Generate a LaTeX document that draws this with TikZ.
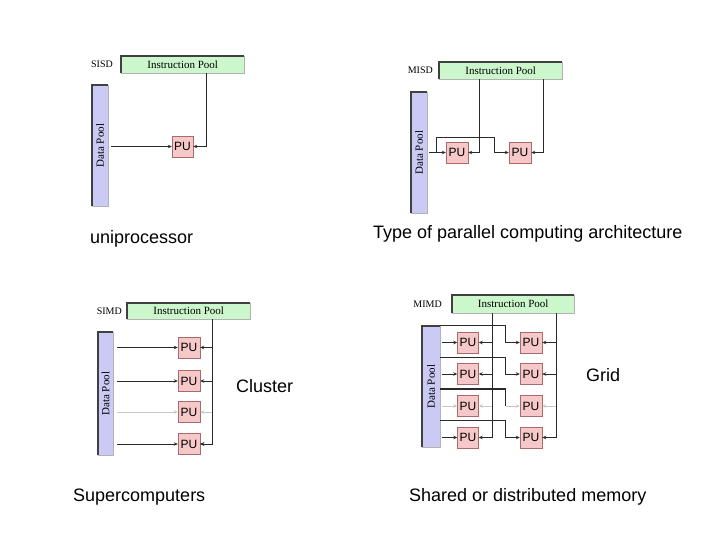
\documentclass[tikz,border=0pt]{standalone}
\usepackage{fontspec}
\setmainfont{Liberation Serif}
\setsansfont{Liberation Sans}
\usepackage{xcolor}
\usetikzlibrary{shapes, arrows.meta, positioning, calc}

\definecolor{poolgreen}{HTML}{CCF7CC}
\definecolor{poolblue}{HTML}{CACAF4}
\definecolor{pupink}{HTML}{F6C8C8}
\definecolor{puedge}{HTML}{A86A6A}
\definecolor{wire}{HTML}{2A2A2A}

\begin{document}
\begin{tikzpicture}[
        x=1pt, y=-1pt,
        ipool/.style={rectangle, draw=gray!60, fill=poolgreen, minimum width=123pt, minimum height=17pt, inner sep=0pt, font=\fontsize{11}{12}\selectfont},
        dpool/.style={rectangle, draw=gray!60, fill=poolblue, minimum width=16pt, minimum height=121pt, inner sep=0pt, font=\fontsize{11}{12}\selectfont},
        rim/.style={line width=1.3pt, black!75},
        pu/.style={rectangle, draw=puedge, fill=pupink, minimum width=21pt, minimum height=21pt, inner sep=0pt, font=\sffamily\fontsize{12}{12}\selectfont},
        kind/.style={font=\fontsize{10}{12}\selectfont, inner sep=0pt},
        caption/.style={font=\sffamily\fontsize{18}{20}\selectfont, inner sep=0pt, anchor=base west},
        arrow/.style={-{Stealth[length=4pt, width=3.5pt]}, line width=0.8pt, wire},
        wireline/.style={line width=0.8pt, wire},
        faint/.style={draw=gray!45}
    ]
        \useasboundingbox (0,0) rectangle (720,540);

        % SISD
        \node[ipool, anchor=north west] (iA) at (121,56) {Instruction Pool};
        \node[kind, left=8pt of iA] (kA) {SISD};
        \node[dpool, anchor=north west] (dA) at (92,85) {\rotatebox{90}{Data Pool}};
        \node[pu] (uA) at (182.5,146.5) {PU};
        \draw[arrow] ($(dA.east |- uA)+(3,0)$) -- (uA);
        \draw[arrow] ([xshift=-38pt]iA.south east) |- (uA);

        % MISD
        \node[ipool, anchor=north west] (iB) at (439,62) {Instruction Pool};
        \node[kind, left=6pt of iB] (kB) {MISD};
        \node[dpool, anchor=north west] (dB) at (411,92) {\rotatebox{90}{Data Pool}};
        \node[pu, minimum width=22pt] (uB1) at (457,152.5) {PU};
        \node[pu, minimum width=22pt] (uB2) at (520,152.5) {PU};
        \coordinate (bB) at (494,137);
        \draw[arrow] ($(dB.east |- uB1)+(2,0)$) -- (uB1);
        \draw[arrow] ($(dB.east |- uB1)+(9,0)$) |- (bB) |- (uB2);
        \draw[arrow] ([xshift=-83pt]iB.south east) |- (uB1);
        \draw[arrow] ([xshift=-19pt]iB.south east) |- (uB2);

        % SIMD
        \node[ipool, anchor=north west, minimum height=16pt] (iC) at (127,303) {Instruction Pool};
        \node[kind, left=5pt of iC] (kC) {SIMD};
        \node[dpool, anchor=north west, minimum width=15pt, minimum height=123pt] (dC) at (98,332) {\rotatebox{90}{Data Pool}};
        \foreach \n/\y in {1/347.5, 2/381, 3/412, 4/444}
            \node[pu, minimum width=22pt] (uC\n) at (189,\y) {PU};
        \draw[arrow] ([xshift=-38pt]iC.south east) |- (uC4);
        \foreach \n in {1,2,4} {
            \draw[arrow] ($(dC.east |- uC\n)+(4,0)$) -- (uC\n);
            \draw[arrow] ($(iC.south east |- uC\n)+(-38,0)$) -- (uC\n);
        }
        \draw[arrow, faint] ($(dC.east |- uC3)+(4,0)$) -- (uC3);
        \draw[arrow, faint] ($(iC.south east |- uC3)+(-38,0)$) -- (uC3);

        % MIMD
        \node[ipool, anchor=north west, minimum width=122pt, minimum height=18pt] (iD) at (452,295) {Instruction Pool};
        \node[kind, left=10pt of iD] (kD) {MIMD};
        \node[dpool, anchor=north west, minimum width=18pt] (dD) at (422,326) {\rotatebox{90}{Data Pool}};
        \foreach \n/\y in {1/342.5, 2/374, 3/406, 4/437.5} {
            \node[pu] (uD\n) at (468,\y) {PU};
            \node[pu, minimum width=22pt] (vD\n) at (531,\y) {PU};
        }
        \draw[wireline] ([xshift=-82pt]iD.south east) -- ($(iD.south east |- uD4)+(-82,0)$);
        \draw[wireline] ([xshift=-18pt]iD.south east) -- ($(iD.south east |- vD4)+(-18,0)$);
        \foreach \n in {1,2,4} {
            \draw[arrow] ($(dD.east |- uD\n)+(2,0)$) -- (uD\n);
            \draw[arrow] ($(iD.south east |- uD\n)+(-82,0)$) -- (uD\n);
            \draw[arrow] ($(iD.south east |- vD\n)+(-18,0)$) -- (vD\n);
            \draw[arrow] ($(dD.east |- uD\n)+(0,-17)$) -| ($(uD\n.east)+(27,0)$) -- (vD\n);
        }
        \draw[arrow, faint] ($(dD.east |- uD3)+(2,0)$) -- (uD3);
        \draw[arrow, faint] ($(iD.south east |- uD3)+(-82,0)$) -- (uD3);
        \draw[arrow, faint] ($(iD.south east |- vD3)+(-18,0)$) -- (vD3);
        \draw[wireline, line width=1.3pt] ($(dD.east |- uD3)+(0,-17)$) -| ($(uD3.east)+(27,0)$);
        \draw[arrow, faint] ($(uD3.east)+(27,0)$) -- (vD3);

        % dark top and left rims of the pools
        \foreach \p in {iA, dA, iB, dB, iC, dC, iD, dD}
            \draw[rim] (\p.south west) -- (\p.north west) -- (\p.north east);

        % captions
        \node[caption] (cUni) at (90,243.5) {uniprocessor};
        \node[caption] (cType) at (373,238) {Type of parallel computing architecture};
        \node[caption] (cClu) at (236,392) {Cluster};
        \node[caption] (cGrid) at (586,381) {Grid};
        \node[caption] (cSup) at (73,501) {Supercomputers};
        \node[caption] (cMem) at (409,501) {Shared or distributed memory};
\end{tikzpicture}
\end{document}
